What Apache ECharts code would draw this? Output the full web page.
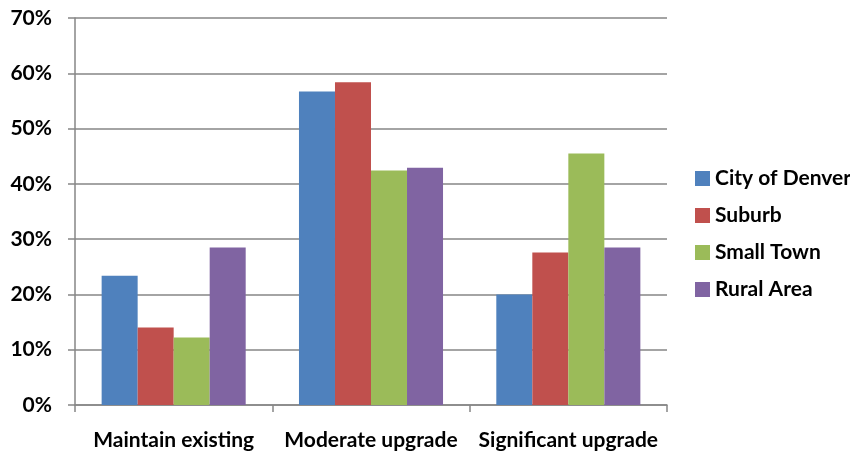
<!DOCTYPE html>
<html>
<head>
<meta charset="utf-8">
<script src="https://cdn.jsdelivr.net/npm/echarts@6/dist/echarts.min.js"></script>
<style>html,body{margin:0;padding:0;background:#fff}#c{width:850px;height:458px}</style>
</head>
<body>
<div id="c"></div>
<script>
const categories = ['Maintain existing', 'Moderate upgrade', 'Significant upgrade'];
const seriesNames = ['City of Denver', 'Suburb', 'Small Town', 'Rural Area'];
const cityOfDenver = [23.4, 56.7, 20.0];
const suburb = [14.0, 58.4, 27.6];
const smallTown = [12.2, 42.4, 45.5];
const ruralArea = [28.5, 42.9, 28.5];
const colors = ['#4F81BD', '#C0504D', '#9BBB59', '#8064A2'];
const values = [cityOfDenver, suburb, smallTown, ruralArea];

const font = 'Lato';
const chart = echarts.init(document.getElementById('c'));
chart.setOption({
  animation: false,
  color: colors,
  grid: {left: 75, right: 183, top: 18, bottom: 53, containLabel: false},
  legend: {
    orient: 'vertical', left: 690, top: 163,
    itemWidth: 15, itemHeight: 15, itemGap: 16,
    icon: 'rect',
    textStyle: {fontFamily: font, fontWeight: 'bold', fontSize: 21, color: '#000'},
    data: seriesNames
  },
  xAxis: {
    type: 'category', data: categories,
    axisLine: {lineStyle: {color: '#868686', width: 1.5}},
    axisTick: {show: true, length: 7, lineStyle: {color: '#868686', width: 1.5}},
    axisLabel: {interval: 0, fontFamily: font, fontWeight: 'bold', fontSize: 21, color: '#000', margin: 25}
  },
  yAxis: {
    type: 'value', min: 0, max: 70, interval: 10,
    axisLine: {show: true, lineStyle: {color: '#868686', width: 1.5}},
    axisTick: {show: true, length: 7, lineStyle: {color: '#868686', width: 1.5}},
    splitLine: {lineStyle: {color: '#868686', width: 1.5}},
    axisLabel: {formatter: '{value}%', fontFamily: font, fontWeight: 'bold', fontSize: 21, color: '#000', margin: 23}
  },
  series: seriesNames.map((n, i) => ({
    name: n, type: 'bar', data: values[i],
    barGap: '0%', barCategoryGap: '27%'
  }))
});
</script>
</body>
</html>
